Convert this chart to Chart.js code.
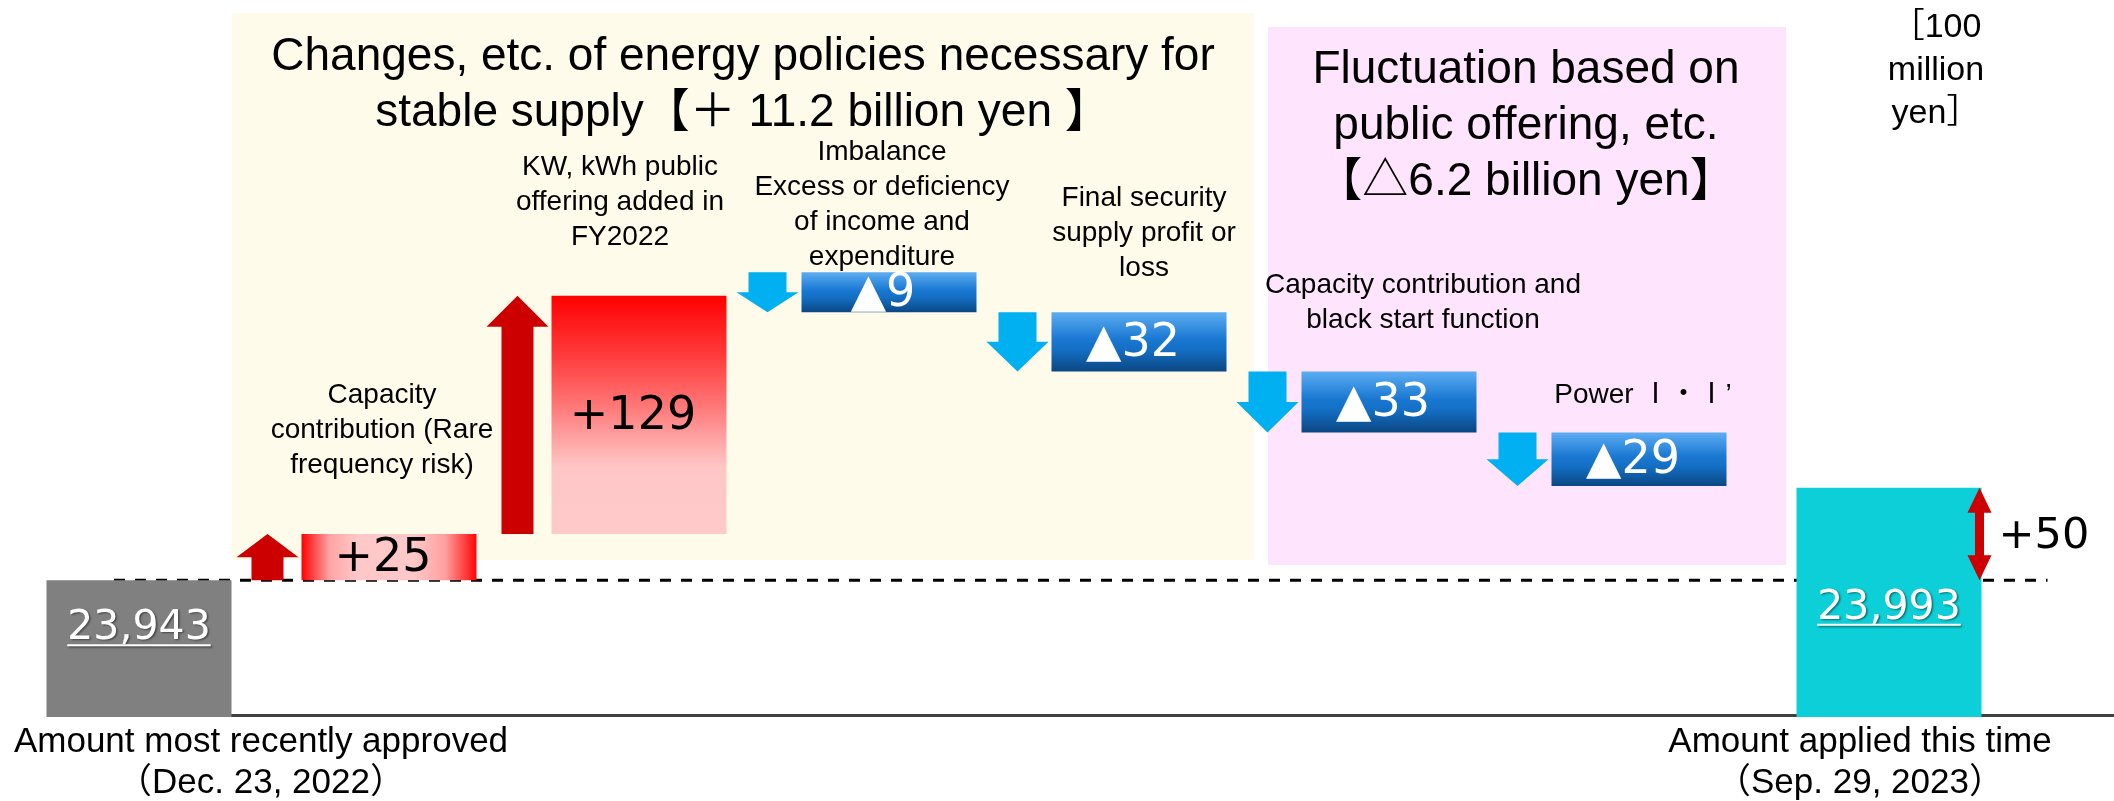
<!DOCTYPE html>
<html lang="en">
<head>
<meta charset="UTF-8">
<title>Revenue requirement bridge</title>
<style>
    * {
        margin: 0;
        padding: 0;
        box-sizing: border-box;
    }

    body {
        background-color: #ffffff;
        width: 2114px;
        height: 801px;
        overflow: hidden;
    }

    .chart-wrap {
        position: relative;
        width: 2114px;
        height: 801px;
    }
</style>
</head>
<body>

<div class="chart-wrap">
    <canvas id="bridgeChart" width="2114" height="801"></canvas>
</div>

<script src="https://cdn.jsdelivr.net/npm/chart.js"></script>
<script>
    // Categories: first and last are the totals, the rest are the changes in between
    const CATEGORIES = [
        ['Amount most recently approved', '（Dec. 23, 2022）'],
        ['Capacity', 'contribution (Rare', 'frequency risk)'],
        ['KW, kWh public', 'offering added in', 'FY2022'],
        ['Imbalance', 'Excess or deficiency', 'of income and', 'expenditure'],
        ['Final security', 'supply profit or', 'loss'],
        ['Capacity contribution and', 'black start function'],
        ['Power Ⅰ・Ⅰ’'],
        ['Amount applied this time', '（Sep. 29, 2023）']
    ];

    // Values in 100 million yen
    const BASE_AMOUNT = 23943;
    const CHANGES = [25, 129, -9, -32, -33, -29];
    const APPLIED_AMOUNT = 23993;

    // Headings of the two shaded groups and the unit note
    const POLICY_TITLE = ['Changes, etc. of energy policies necessary for', 'stable supply【＋ 11.2 billion yen 】'];
    const OFFERING_TITLE = ['Fluctuation based on', 'public offering, etc.', '【△6.2 billion yen】'];
    const UNIT_LINES = ['［100', 'million', 'yen］'];

    // Value axis window; everything below the dashed reference line is cut away
    const Y_MIN = 23869;
    const Y_MAX = 24257;

    const SANS = "'Liberation Sans', Arial, 'Noto Sans CJK JP', sans-serif";
    const NUM = "'DejaVu Sans', Verdana, 'Noto Sans CJK JP', sans-serif";

    const MIN_BAR = 40;
    const STEP_BAR_PCT = 0.7;
    const TOTAL_BAR_PCT = 0.74;

    // note placement above each change box: horizontal shift, gap to the box top
    const NOTE_DX = [-7, -19, -7, 5, 34, 4];
    const NOTE_GAP = [69, 58, 15, 44, 51, 37];
    // distance from the top of each total bar to its value text
    const TOTAL_LABEL_DY = [48, 120];

    // floating [from, to] ranges for the change boxes
    let running = BASE_AMOUNT;
    const stepData = [null];
    CHANGES.forEach(v => {
        stepData.push([running, running + v]);
        running += v;
    });
    stepData.push(null);

    const totalData = CATEGORIES.map((c, i) =>
        i === 0 ? BASE_AMOUNT : (i === CATEGORIES.length - 1 ? APPLIED_AMOUNT : null));

    function stepLabel(v) {
        return (v > 0 ? '+' : '▲') + Math.abs(v);
    }

    // same box Chart.js ends up drawing (minBarLength grows the bar upward from its lower end)
    function stepBox(chart, i, raw) {
        const xs = chart.scales.x, ys = chart.scales.y;
        const a = ys.getPixelForValue(raw[0]);
        const b = ys.getPixelForValue(raw[1]);
        let top = Math.min(a, b);
        const bottom = Math.max(a, b);
        if (bottom - top < MIN_BAR) top = bottom - MIN_BAR;
        const w = xs.width / chart.data.labels.length * STEP_BAR_PCT;
        const cx = xs.getPixelForValue(i);
        return { left: cx - w / 2, right: cx + w / 2, top, bottom };
    }

    function stepFill(context) {
        const raw = context.raw;
        const chart = context.chart;
        if (!raw || !chart.chartArea) return 'transparent';
        const c = chart.ctx;
        const box = stepBox(chart, context.dataIndex, raw);
        let g;
        if (raw[1] < raw[0]) {
            g = c.createLinearGradient(0, box.top, 0, box.bottom);
            g.addColorStop(0, '#5dadf2');
            g.addColorStop(0.45, '#1a78d2');
            g.addColorStop(0.62, '#1470c6');
            g.addColorStop(1, '#0b4783');
        } else if (box.bottom - box.top > box.right - box.left) {
            g = c.createLinearGradient(0, box.top, 0, box.bottom);
            g.addColorStop(0, '#ff0000');
            g.addColorStop(0.25, '#ff3b3b');
            g.addColorStop(0.45, '#ff7373');
            g.addColorStop(0.6, '#ffa3a3');
            g.addColorStop(0.72, '#ffc6c6');
            g.addColorStop(1, '#ffcaca');
        } else {
            g = c.createLinearGradient(box.left, 0, box.right, 0);
            g.addColorStop(0, '#ff0000');
            g.addColorStop(0.16, '#ffa4a4');
            g.addColorStop(0.32, '#ffc8c8');
            g.addColorStop(0.64, '#ffc8c8');
            g.addColorStop(0.82, '#ffa0a0');
            g.addColorStop(1, '#ff0505');
        }
        return g;
    }

    function drawArrow(c, cx, top, bottom, width, shaft, head, up, color) {
        const h = width / 2, s = shaft / 2;
        c.beginPath();
        if (up) {
            c.moveTo(cx, top);
            c.lineTo(cx + h, top + head);
            c.lineTo(cx + s, top + head);
            c.lineTo(cx + s, bottom);
            c.lineTo(cx - s, bottom);
            c.lineTo(cx - s, top + head);
            c.lineTo(cx - h, top + head);
        } else {
            c.moveTo(cx - s, top);
            c.lineTo(cx + s, top);
            c.lineTo(cx + s, bottom - head);
            c.lineTo(cx + h, bottom - head);
            c.lineTo(cx, bottom);
            c.lineTo(cx - h, bottom - head);
            c.lineTo(cx - s, bottom - head);
        }
        c.closePath();
        c.fillStyle = color;
        c.fill();
    }

    function drawDoubleArrow(c, cx, top, bottom, width, shaft, head, color) {
        const h = width / 2, s = shaft / 2;
        c.beginPath();
        c.moveTo(cx, top);
        c.lineTo(cx + h, top + head);
        c.lineTo(cx + s, top + head);
        c.lineTo(cx + s, bottom - head);
        c.lineTo(cx + h, bottom - head);
        c.lineTo(cx, bottom);
        c.lineTo(cx - h, bottom - head);
        c.lineTo(cx - s, bottom - head);
        c.lineTo(cx - s, top + head);
        c.lineTo(cx - h, top + head);
        c.closePath();
        c.fillStyle = color;
        c.fill();
    }

    function textLines(c, lines, x, y, lh, font, color, align) {
        c.font = font;
        c.fillStyle = color;
        c.textAlign = align || 'center';
        c.textBaseline = 'middle';
        lines.forEach((t, i) => c.fillText(t, x, y + i * lh));
    }

    const bridgeDecor = {
        id: 'bridgeDecor',
        beforeDraw(chart) {
            const c = chart.ctx;
            c.save();
            c.fillStyle = '#fffbea';
            c.fillRect(232, 13, 1022, 547);
            c.fillStyle = '#ffe4fd';
            c.fillRect(1268, 27, 518, 538);
            c.restore();
        },
        beforeDatasetsDraw(chart) {
            const c = chart.ctx;
            const area = chart.chartArea;
            const totals = chart.getDatasetMeta(0).data;
            const first = totals[0], last = totals[totals.length - 1];
            const ref = chart.scales.y.getPixelForValue(BASE_AMOUNT);
            c.save();
            // ground line
            c.strokeStyle = '#404040';
            c.lineWidth = 3;
            c.beginPath();
            c.moveTo(first.x, area.bottom - 1.5);
            c.lineTo(chart.width, area.bottom - 1.5);
            c.stroke();
            // level of the previously approved amount
            c.strokeStyle = '#000000';
            c.setLineDash([11, 10]);
            c.beginPath();
            c.moveTo(first.x - 25, ref);
            c.lineTo(last.x + last.width / 2 + 66, ref);
            c.stroke();
            c.restore();
        },
        afterDatasetsDraw(chart) {
            const c = chart.ctx;
            const area = chart.chartArea;
            const ys = chart.scales.y;
            const labels = chart.data.labels;
            const steps = chart.getDatasetMeta(1).data;
            const totals = chart.getDatasetMeta(0).data;
            c.save();

            // change boxes: arrow, value, note
            CHANGES.forEach((v, k) => {
                const el = steps[k + 1];
                const top = Math.min(el.y, el.base);
                const bottom = Math.max(el.y, el.base);
                const left = el.x - el.width / 2;
                const up = v > 0;
                drawArrow(c, left - 34, top, bottom, 62, up ? 32 : 38,
                    Math.min(31, (bottom - top) / 2), up, up ? '#cc0000' : '#00b0f0');
                textLines(c, [stepLabel(v)], el.x - 6, (top + bottom) / 2 + 2, 0,
                    `46px ${NUM}`, up ? '#000000' : '#ffffff');
                const note = labels[k + 1];
                const y0 = top - NOTE_GAP[k] - (note.length - 1) * 35;
                textLines(c, note, el.x + NOTE_DX[k], y0, 35, `28px ${SANS}`, '#000000');
            });

            // totals: underlined white value
            const ends = [totals[0], totals[totals.length - 1]];
            const endValues = [BASE_AMOUNT, APPLIED_AMOUNT];
            ends.forEach((el, j) => {
                const txt = endValues[j].toLocaleString('en-US');
                const ty = el.y + TOTAL_LABEL_DY[j];
                c.save();
                c.shadowColor = 'rgba(0, 0, 0, 0.45)';
                c.shadowOffsetX = 1.5;
                c.shadowOffsetY = 1.5;
                c.shadowBlur = 2;
                textLines(c, [txt], el.x, ty, 0, `41px ${NUM}`, '#ffffff');
                const w = c.measureText(txt).width;
                c.strokeStyle = '#ffffff';
                c.lineWidth = 2;
                c.beginPath();
                c.moveTo(el.x - w / 2, ty + 17);
                c.lineTo(el.x + w / 2, ty + 17);
                c.stroke();
                c.restore();
            });

            // difference between the two totals
            const last = ends[1];
            const ax = last.x + last.width / 2 - 2;
            const aTop = ys.getPixelForValue(APPLIED_AMOUNT);
            const aBottom = ys.getPixelForValue(BASE_AMOUNT);
            drawDoubleArrow(c, ax, aTop, aBottom, 24, 9, 25, '#cc0000');
            const diff = APPLIED_AMOUNT - BASE_AMOUNT;
            textLines(c, [(diff >= 0 ? '+' : '▲') + Math.abs(diff)], ax + 19, (aTop + aBottom) / 2 + 3, 0,
                `43px ${NUM}`, '#000000', 'left');

            // category names under the totals
            textLines(c, labels[0], ends[0].x + 122, area.bottom + 25, 41, `35px ${SANS}`, '#000000');
            textLines(c, labels[labels.length - 1], last.x - 29, area.bottom + 66 - 41, 41, `35px ${SANS}`, '#000000');

            // group headings and unit
            textLines(c, POLICY_TITLE, 743, 57, 56, `46px ${SANS}`, '#000000');
            textLines(c, OFFERING_TITLE, 1526, 70, 56, `46px ${SANS}`, '#000000');
            textLines(c, UNIT_LINES, 1936, 28, 43, `34px ${SANS}`, '#000000');

            c.restore();
        }
    };

    new Chart(document.getElementById('bridgeChart'), {
        type: 'bar',
        data: {
            labels: CATEGORIES,
            datasets: [
                {
                    label: 'Total',
                    data: totalData,
                    backgroundColor: ctx => (ctx.dataIndex === 0 ? '#808080' : '#0ccfd7'),
                    barPercentage: TOTAL_BAR_PCT,
                    categoryPercentage: 1,
                    grouped: false,
                    borderWidth: 0,
                    clip: 0
                },
                {
                    label: 'Change',
                    data: stepData,
                    backgroundColor: stepFill,
                    barPercentage: STEP_BAR_PCT,
                    categoryPercentage: 1,
                    grouped: false,
                    borderWidth: 0,
                    minBarLength: MIN_BAR
                }
            ]
        },
        options: {
            responsive: false,
            animation: false,
            layout: {
                padding: { left: 14, right: 100, top: 0, bottom: 84 }
            },
            plugins: {
                legend: { display: false },
                tooltip: { enabled: false }
            },
            scales: {
                x: { display: false },
                y: { display: false, min: Y_MIN, max: Y_MAX }
            }
        },
        plugins: [bridgeDecor]
    });
</script>

</body>
</html>
